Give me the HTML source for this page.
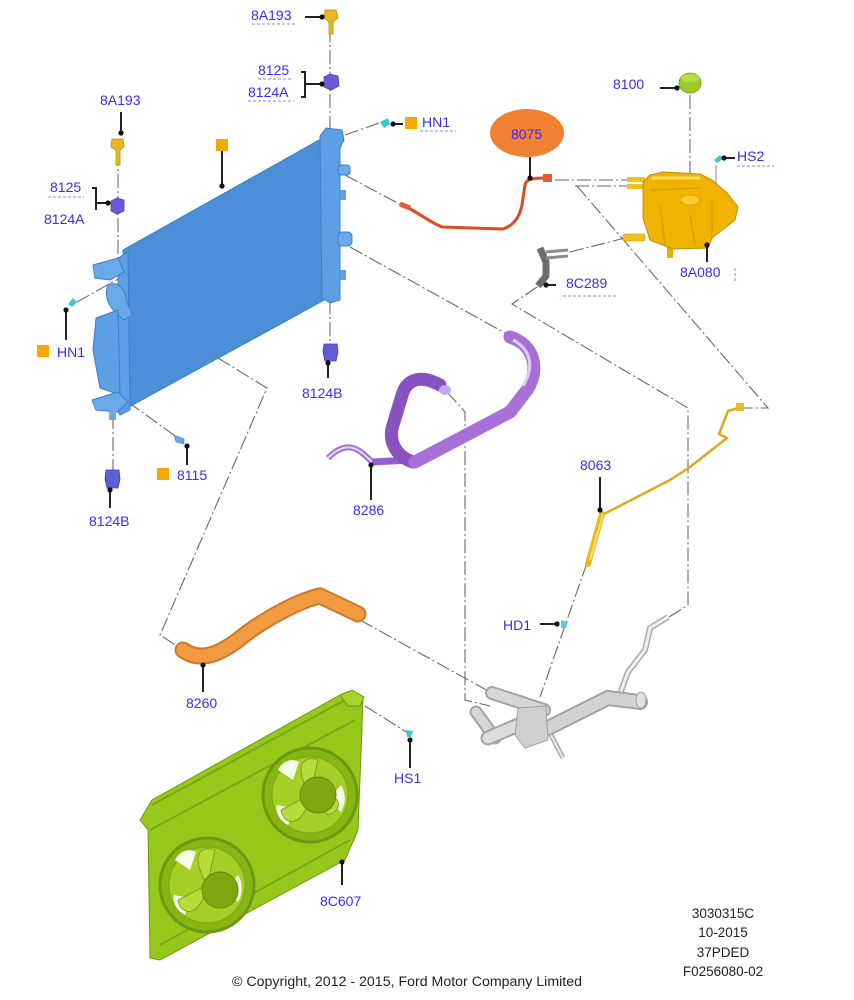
<!DOCTYPE html>
<html><head><meta charset="utf-8">
<style>
html,body{margin:0;padding:0;background:#fff;}
svg{display:block;}
.lb{font-family:"Liberation Sans",Arial,sans-serif;font-size:14px;fill:#3b2bff;}
.bk{font-family:"Liberation Sans",Arial,sans-serif;font-size:13.5px;fill:#222;}
.dd{fill:none;stroke:#6a6a6a;stroke-width:1.1;stroke-dasharray:14 3 2 3;}
.ld{fill:none;stroke:#222;stroke-width:2;}
.ul{stroke:#7a8cff;stroke-width:1;stroke-dasharray:3 2;}
</style></head>
<body>
<svg width="854" height="1000" viewBox="0 0 854 1000" xmlns="http://www.w3.org/2000/svg">
<rect width="854" height="1000" fill="#fff"/>

<!-- connector dash-dot lines -->
<path class="dd" d="M330,28 L330,130"/>
<path class="dd" d="M118,152 L118,262"/>
<path class="dd" d="M330,300 L330,345"/>
<path class="dd" d="M113,415 L113,470"/>
<path class="dd" d="M345,135 L382,122"/>
<path class="dd" d="M77,302 L120,278"/>
<path class="dd" d="M345,175 L405,207"/>
<path class="dd" d="M350,247 L505,333"/>
<path class="dd" d="M447,392 L465,412 L465,700 L490,706"/>
<path class="dd" d="M218,358 L267,388 L160,635 L180,648"/>
<path class="dd" d="M128,402 L178,438"/>
<path class="dd" d="M360,620 L490,692"/>
<path class="dd" d="M555,180 L640,180"/>
<path class="dd" d="M575,186 L642,186"/>
<path class="dd" d="M577,186 L768,408 L743,408"/>
<path class="dd" d="M537,287 L512,304 L688,408 L688,605 L652,628"/>
<path class="dd" d="M570,252 L625,238"/>
<path class="dd" d="M690,95 L690,198"/>
<path d="M716,165 L716,220" stroke="#9a9a9a" stroke-width="1.2"/>
<path class="dd" d="M587,563 L540,697"/>
<path class="dd" d="M365,706 L408,733"/>
<!-- tube from left radiator outlet -->
<path d="M130,312 L218,358" stroke="#8a8a8a" stroke-width="3.5"/>
<path d="M130,312 L218,358" stroke="#eee" stroke-width="1.5"/>

<!-- RADIATOR -->
<polygon points="123,250 328,135 328,298 127,408" fill="#4b8fd8" stroke="#3d7fc6" stroke-width="1"/>
<!-- right tank -->
<path d="M320,136 L326,128 L342,130 L344,140 L340,148 L340,300 L330,303 L322,298 Z" fill="#5c9fe3" stroke="#3d7fc6"/>
<rect x="338" y="165" width="12" height="10" rx="3" fill="#6aa9e8" stroke="#3d7fc6"/>
<rect x="338" y="232" width="14" height="14" rx="4" fill="#6aa9e8" stroke="#3d7fc6"/>
<rect x="340" y="190" width="6" height="10" fill="#5c9fe3"/>
<rect x="340" y="270" width="6" height="10" fill="#5c9fe3"/>
<!-- left tank -->
<path d="M118,258 L128,252 L130,410 L120,415 L118,412 Z" fill="#5c9fe3" stroke="#3d7fc6"/>
<path d="M93,265 L118,258 L124,272 L110,280 L95,278 Z" fill="#6aa9e8" stroke="#3d7fc6"/>
<path d="M108,285 C118,280 126,290 126,300 L132,315 L124,320 L115,312 C108,305 104,295 108,285 Z" fill="#6aa9e8" stroke="#3d7fc6"/>
<path d="M96,318 L118,310 L120,395 L100,388 L93,350 Z" fill="#5c9fe3" stroke="#3d7fc6"/>
<path d="M92,400 L118,392 L128,402 L118,412 L96,410 Z" fill="#6aa9e8" stroke="#3d7fc6"/>
<rect x="109" y="410" width="7" height="10" fill="#6aa9e8"/>

<!-- 8A193 top screw -->
<path d="M325,10 L336,10 L338,18 L333,22 L333,34 L329,34 L329,22 L324,18 Z" fill="#e8b820" stroke="#b88a10" stroke-width="0.8"/>
<!-- 8125 top clip -->
<path d="M324,77 L330,74 L338,76 L339,86 L331,90 L324,87 Z" fill="#6a5ad8" stroke="#4a3ab8" stroke-width="0.8"/>
<!-- 8A193 left -->
<path d="M112,139 L123,139 L124,147 L120,150 L120,165 L116,165 L116,150 L111,147 Z" fill="#e8b820" stroke="#b88a10" stroke-width="0.8"/>
<!-- 8125 left clip -->
<path d="M111,201 L117,198 L124,200 L124,211 L117,214 L111,211 Z" fill="#6a5ad8" stroke="#4a3ab8" stroke-width="0.8"/>
<!-- 8124B right -->
<path d="M324,344 L337,344 L338,352 L336,361 L325,361 L323,352 Z" fill="#5e5ed8" stroke="#3e3eb0" stroke-width="0.8"/>
<!-- 8124B left -->
<path d="M106,470 L119,470 L120,479 L118,488 L107,488 L105,479 Z" fill="#5e5ed8" stroke="#3e3eb0" stroke-width="0.8"/>
<!-- clips -->
<path d="M380,122 L388,118 L390,124 L384,128 Z" fill="#3cc6d6"/>
<path d="M68,304 L73,298 L77,302 L72,307 Z" fill="#3cc6d6"/>
<path d="M174,435 L184,439 L184,444 L176,442 Z" fill="#6aa9e8" stroke="#3d7fc6" stroke-width="0.6"/>
<path d="M714,160 L720,155 L723,159 L717,163 Z" fill="#3cc6d6"/>
<path d="M561,620 L568,622 L566,628 L561,628 Z" fill="#5cc8e8"/>
<path d="M406,730 L413,731 L411,737 L407,737 Z" fill="#3cc6d6"/>

<!-- orange squares -->
<rect x="216" y="139" width="12" height="12" fill="#f5a800"/>
<rect x="405" y="117" width="12" height="12" fill="#f5a800"/>
<rect x="37" y="345" width="12" height="12" fill="#f5a800"/>
<rect x="157" y="468" width="12" height="12" fill="#f5a800"/>

<!-- RED HOSE 8075 -->
<path d="M405,206 C420,214 430,222 442,227 L503,229 C515,225 520,215 522,205 L525,185 C526,180 530,178 545,178" fill="none" stroke="#e04a20" stroke-width="3"/>
<rect x="543" y="174" width="9" height="8" fill="#e85a30"/>
<path d="M400,204 L410,208" stroke="#e85a30" stroke-width="5"/>
<ellipse cx="527" cy="133" rx="37" ry="24" fill="#f08032"/>

<!-- 8C289 bracket -->
<path d="M540,248 L546,262 L546,276 L538,286" fill="none" stroke="#6c6c6c" stroke-width="7" stroke-linejoin="round"/>
<path d="M546,252 L568,250 M546,258 L568,256" stroke="#8c8c8c" stroke-width="3"/>

<!-- RESERVOIR -->
<rect x="627" y="177" width="18" height="5" fill="#f0c020"/>
<rect x="627" y="184" width="18" height="5" fill="#f0c020"/>
<rect x="623" y="234" width="22" height="7" rx="2" fill="#f0c020" stroke="#c89000" stroke-width="0.6"/>
<rect x="667" y="246" width="6" height="12" fill="#e8b000"/>
<polygon points="643,182 650,175 663,172 700,174 712,180 727,193 738,207 735,220 712,238 708,248 673,249 650,240 643,218" fill="#f0b400" stroke="#c08c00" stroke-width="1"/>
<path d="M650,190 L700,188 M660,205 L665,245 M690,215 L695,245 M712,200 L712,238" stroke="#d49c00" stroke-width="1.2" fill="none"/>
<ellipse cx="690" cy="200" rx="10" ry="5" fill="#f8cc30" stroke="#c89000" stroke-width="0.6"/>
<path d="M652,178 L700,178" stroke="#fadd60" stroke-width="3"/>
<!-- cap 8100 -->
<ellipse cx="690" cy="83" rx="11" ry="10" fill="#9ccc2a" stroke="#6f9a10" stroke-width="0.8"/>
<ellipse cx="690" cy="78" rx="9" ry="4" fill="#b4dc48"/>

<!-- PURPLE HOSE 8286 -->
<path d="M372,462 C360,450 348,438 328,458" fill="none" stroke="#a070d8" stroke-width="6"/>
<path d="M372,462 C360,450 348,438 328,458" fill="none" stroke="#e8d8f8" stroke-width="2"/>
<path d="M372,462 L412,460" stroke="#9660cc" stroke-width="7"/>
<path d="M413,462 C395,456 388,440 393,425 L403,392 C408,380 420,374 440,385" fill="none" stroke="#8a52c0" stroke-width="13" stroke-linecap="round"/>
<path d="M510,337 C535,345 540,370 527,390 L510,412 L415,462" fill="none" stroke="#a770d8" stroke-width="13" stroke-linecap="round"/>
<path d="M513,340 C532,350 534,368 523,386" fill="none" stroke="#e0ccf4" stroke-width="3"/>
<ellipse cx="445" cy="390" rx="6" ry="5" fill="#c8a8ec"/>

<!-- YELLOW 8063 TUBE -->
<path d="M742,407 L728,411 L719,434 L727,438 L690,467 L670,480 L604,514" fill="none" stroke="#e0a820" stroke-width="2.5" stroke-linejoin="round"/>
<rect x="736" y="403" width="8" height="8" fill="#e8b830"/>
<path d="M602,514 L588,564" stroke="#e8b820" stroke-width="6" stroke-linecap="round"/>
<path d="M603,514 L590,560" stroke="#fbe070" stroke-width="2"/>

<!-- ORANGE HOSE 8260 -->
<path d="M183,650 C200,662 218,655 238,640 C262,620 300,600 320,596 L358,614" fill="none" stroke="#d07828" stroke-width="17" stroke-linecap="round"/>
<path d="M183,650 C200,662 218,655 238,640 C262,620 300,600 320,596 L358,614" fill="none" stroke="#f29a40" stroke-width="13" stroke-linecap="round"/>

<!-- GREY THERMOSTAT / PIPE -->
<path d="M620,694 L628,672 L645,650 L650,628 L668,617" fill="none" stroke="#a8a8a8" stroke-width="6"/>
<path d="M620,694 L628,672 L645,650 L650,628 L668,617" fill="none" stroke="#f0f0f0" stroke-width="3"/>
<path d="M550,733 L563,758" stroke="#a8a8a8" stroke-width="5"/>
<path d="M550,733 L563,758" stroke="#eee" stroke-width="2"/>
<path d="M548,728 L608,698 L640,702" fill="none" stroke="#a4a4a4" stroke-width="16" stroke-linecap="round"/>
<path d="M548,728 L608,698 L640,702" fill="none" stroke="#d2d2d2" stroke-width="12" stroke-linecap="round"/>
<ellipse cx="641" cy="700" rx="5" ry="8" fill="#e0e0e0" stroke="#a0a0a0"/>
<path d="M492,693 L544,710" stroke="#a4a4a4" stroke-width="14" stroke-linecap="round"/>
<path d="M492,693 L544,710" stroke="#d6d6d6" stroke-width="10" stroke-linecap="round"/>
<path d="M476,712 L495,738" stroke="#a4a4a4" stroke-width="13" stroke-linecap="round"/>
<path d="M476,712 L495,738" stroke="#d6d6d6" stroke-width="9" stroke-linecap="round"/>
<path d="M488,738 L530,720" stroke="#a4a4a4" stroke-width="15" stroke-linecap="round"/>
<path d="M488,738 L530,720" stroke="#dcdcdc" stroke-width="11" stroke-linecap="round"/>
<path d="M518,708 L546,706 L548,740 L525,748 L515,735 Z" fill="#cfcfcf" stroke="#a0a0a0"/>

<!-- FAN SHROUD 8C607 -->
<polygon points="140,820 152,800 340,695 363,697 362,727 358,830 345,860 160,960 150,958 148,830" fill="#96c81c" stroke="#6e9810" stroke-width="1"/>
<path d="M152,805 L345,700 M150,830 L355,720 M160,945 L350,840" stroke="#7aa814" stroke-width="2" fill="none"/>
<circle cx="207" cy="885" r="47" fill="#86b614" stroke="#6e9810" stroke-width="3"/>
<circle cx="207" cy="885" r="38" fill="#a4cf26" stroke="#78a410" stroke-width="1"/>
<path d="M175,860 C180,850 190,848 196,852 L190,870 Z M238,875 C244,885 242,895 238,902 L225,890 Z M185,915 C175,910 172,900 174,895 L190,898 Z" fill="#f6fbe8"/>
<path d="M207,885 C190,855 200,845 215,850 Z M207,885 C240,880 242,900 225,905 Z M207,885 C200,920 180,915 178,900 Z" fill="#b6dc3c" stroke="#6e9810" stroke-width="0.8"/>
<circle cx="220" cy="890" r="18" fill="#7ea812" stroke="#5e8a08"/>
<circle cx="310" cy="795" r="47" fill="#86b614" stroke="#6e9810" stroke-width="3"/>
<circle cx="310" cy="795" r="38" fill="#a4cf26" stroke="#78a410" stroke-width="1"/>
<path d="M278,770 C283,760 293,758 299,762 L293,780 Z M341,785 C347,795 345,805 341,812 L328,800 Z M288,825 C278,820 275,810 277,805 L293,808 Z" fill="#f6fbe8"/>
<path d="M310,795 C293,765 303,755 318,760 Z M310,795 C343,790 345,810 328,815 Z M310,795 C303,830 283,825 281,810 Z" fill="#b6dc3c" stroke="#6e9810" stroke-width="0.8"/>
<circle cx="318" cy="795" r="18" fill="#7ea812" stroke="#5e8a08"/>
<path d="M340,695 L352,690 L364,697 L360,706 L348,706 Z" fill="#a6d42c" stroke="#6e9810"/>

<!-- leader lines and dots -->
<g class="ld">
<path d="M305,17 L322,17"/>
<path d="M301,72 L305,72 L305,97 L301,97 M305,84 L322,84"/>
<path d="M393,124 L403,124"/>
<path d="M121,112 L121,133"/>
<path d="M92,188 L96,188 L96,210 M96,203 L108,203"/>
<path d="M222,151 L222,186"/>
<path d="M530,157 L530,178"/>
<path d="M660,88 L677,88"/>
<path d="M724,158 L735,158"/>
<path d="M546,285 L556,285"/>
<path d="M707,245 L707,262"/>
<path d="M66,310 L66,340"/>
<path d="M328,363 L328,378"/>
<path d="M187,446 L187,465"/>
<path d="M110,490 L110,508"/>
<path d="M371,465 L371,500"/>
<path d="M600,477 L600,510"/>
<path d="M540,624 L557,624"/>
<path d="M203,665 L203,692"/>
<path d="M410,740 L410,768"/>
<path d="M342,862 L342,885"/>
</g>
<g fill="#111">
<circle cx="322" cy="17" r="2.6"/><circle cx="322" cy="84" r="2.6"/><circle cx="393" cy="124" r="2.6"/>
<circle cx="121" cy="133" r="2.6"/><circle cx="108" cy="203" r="2.6"/><circle cx="222" cy="186" r="2.6"/>
<circle cx="530" cy="178" r="2.6"/><circle cx="677" cy="88" r="2.6"/><circle cx="724" cy="158" r="2.6"/>
<circle cx="546" cy="285" r="2.6"/><circle cx="707" cy="245" r="2.6"/><circle cx="66" cy="310" r="2.6"/>
<circle cx="328" cy="363" r="2.6"/><circle cx="187" cy="446" r="2.6"/><circle cx="110" cy="490" r="2.6"/>
<circle cx="371" cy="465" r="2.6"/><circle cx="600" cy="510" r="2.6"/><circle cx="557" cy="624" r="2.6"/>
<circle cx="203" cy="665" r="2.6"/><circle cx="410" cy="740" r="2.6"/><circle cx="342" cy="862" r="2.6"/>
</g>

<!-- dotted underlines -->
<path class="ul" d="M252,24 L296,24 M258,79 L292,79 M248,101 L294,101 M420,131 L456,131 M48,197 L84,197 M737,166 L774,166 M563,296 L617,296 M735,268 L735,282"/>

<!-- labels -->
<text class="lb" x="251" y="20">8A193</text>
<text class="lb" x="258" y="75">8125</text>
<text class="lb" x="248" y="97">8124A</text>
<text class="lb" x="422" y="127">HN1</text>
<text class="lb" x="511" y="139">8075</text>
<text class="lb" x="613" y="89">8100</text>
<text class="lb" x="737" y="161">HS2</text>
<text class="lb" x="566" y="288">8C289</text>
<text class="lb" x="680" y="277">8A080</text>
<text class="lb" x="100" y="105">8A193</text>
<text class="lb" x="50" y="192">8125</text>
<text class="lb" x="44" y="224">8124A</text>
<text class="lb" x="57" y="357">HN1</text>
<text class="lb" x="302" y="398">8124B</text>
<text class="lb" x="177" y="480">8115</text>
<text class="lb" x="89" y="526">8124B</text>
<text class="lb" x="353" y="515">8286</text>
<text class="lb" x="580" y="470">8063</text>
<text class="lb" x="503" y="630">HD1</text>
<text class="lb" x="186" y="708">8260</text>
<text class="lb" x="394" y="783">HS1</text>
<text class="lb" x="320" y="906">8C607</text>

<text class="bk" x="723" y="918" text-anchor="middle">3030315C</text>
<text class="bk" x="723" y="937" text-anchor="middle">10-2015</text>
<text class="bk" x="723" y="957" text-anchor="middle">37PDED</text>
<text class="bk" x="723" y="976" text-anchor="middle">F0256080-02</text>
<text class="bk" x="232" y="986" textLength="350" lengthAdjust="spacingAndGlyphs">© Copyright, 2012 - 2015, Ford Motor Company Limited</text>
</svg>
</body></html>
